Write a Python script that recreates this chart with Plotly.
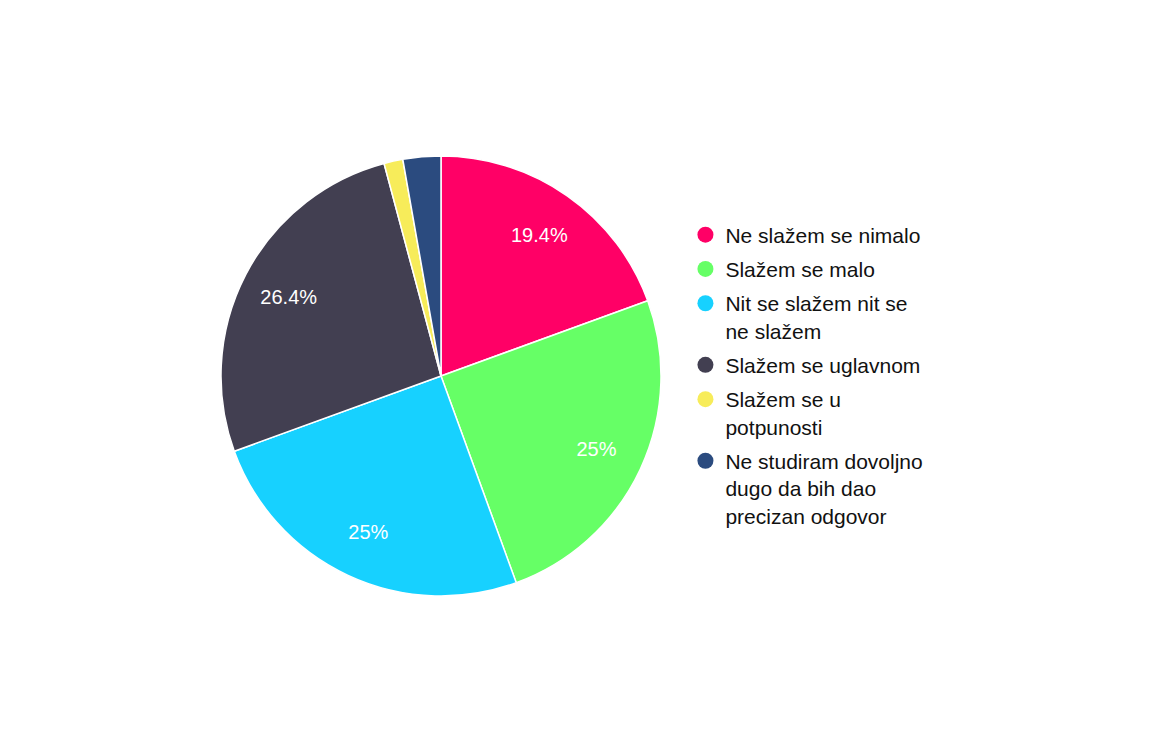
import plotly.graph_objects as go

labels = [
    "Ne slažem se nimalo",
    "Slažem se malo",
    "Nit se slažem nit se ne slažem",
    "Slažem se uglavnom",
    "Slažem se u potpunosti",
    "Ne studiram dovoljno dugo da bih dao precizan odgovor",
]
legend_labels = [
    "Ne slažem se nimalo",
    "Slažem se malo",
    "Nit se slažem nit se<br>ne slažem",
    "Slažem se uglavnom",
    "Slažem se u<br>potpunosti",
    "Ne studiram dovoljno<br>dugo da bih dao<br>precizan odgovor",
]
values = [14, 18, 18, 19, 1, 2]
colors = ["#FF0066", "#66FF66", "#17D1FF", "#423F51", "#F7EC5A", "#2B4B7F"]

total = sum(values)
texts = []
for v in values:
    p = round(v / total * 100, 1)
    s = ("%.1f" % p).rstrip("0").rstrip(".") + "%"
    texts.append(s if p >= 5 else "")

FONT = "Liberation Sans, Arial, sans-serif"
dom = dict(x=[(441 - 220) / 1152, (441 + 220) / 1152],
           y=[(374 - 220) / 750, (374 + 220) / 750])

fig = go.Figure()
# base pie (colours, no text)
fig.add_trace(go.Pie(
    labels=labels, values=values,
    sort=False, direction="clockwise", rotation=0,
    marker=dict(colors=colors, line=dict(color="white", width=1.5)),
    textinfo="none",
    showlegend=False,
    hoverinfo="label+percent",
    domain=dom,
))
# transparent ring overlay carrying the percentage labels in the outer band
fig.add_trace(go.Pie(
    labels=labels, values=values,
    text=texts, texttemplate="%{text}",
    textposition="inside", insidetextorientation="horizontal",
    sort=False, direction="clockwise", rotation=0, hole=0.56,
    marker=dict(colors=["rgba(0,0,0,0)"] * len(values), line=dict(width=0)),
    textfont=dict(color="white", size=20, family=FONT),
    showlegend=False,
    hoverinfo="skip",
    domain=dom,
))
for lab, col in zip(legend_labels, colors):
    fig.add_trace(go.Scatter(
        x=[None], y=[None], mode="markers", name=lab, legendgroup=lab,
        marker=dict(color=col, size=20, symbol="circle"),
        hoverinfo="skip",
    ))

fig.update_layout(
    width=1152, height=750,
    margin=dict(l=0, r=0, t=0, b=0),
    paper_bgcolor="white", plot_bgcolor="white",
    xaxis=dict(visible=False), yaxis=dict(visible=False),
    font=dict(family=FONT, size=21, color="#222"),
    legend=dict(
        x=0.595, y=0.5, xanchor="left", yanchor="middle",
        font=dict(size=21, color="#111"),
        itemsizing="trace", tracegroupgap=4, valign="top",
        bgcolor="rgba(0,0,0,0)",
    ),
)
fig.write_html("out.html")
